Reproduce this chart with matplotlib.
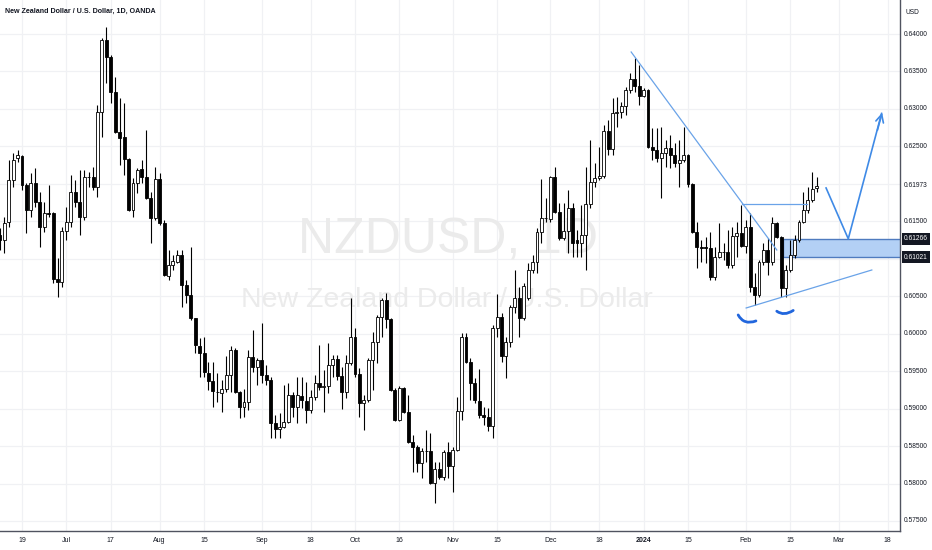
import matplotlib
matplotlib.use("Agg")
import matplotlib.pyplot as plt
import numpy as np
import pandas as pd
from matplotlib.patches import Rectangle, PathPatch
from matplotlib.path import Path

# ---------------- data (NZDUSD daily) ----------------
start_date = "2023-06-12"
opens = [0.61317, 0.61251, 0.61491, 0.62051, 0.62345,
         0.62372, 0.61985, 0.61651, 0.62011, 0.61758, 0.61424, 0.61611, 0.61611, 0.60730, 0.60690,
         0.61371, 0.61491, 0.61891, 0.61758, 0.61558, 0.62091, 0.62091, 0.61958, 0.62959, 0.63920,
         0.63693, 0.63226, 0.62692, 0.62625, 0.62332, 0.61651, 0.62011, 0.62198, 0.62091, 0.61811,
         0.61544, 0.62065, 0.61477, 0.60770, 0.60917, 0.60957, 0.61050, 0.60650, 0.60516, 0.60209,
         0.59836, 0.59742, 0.59475, 0.59368, 0.59222, 0.59208, 0.59262, 0.59448, 0.59782, 0.59222,
         0.59021, 0.59088, 0.59689, 0.59555, 0.59649, 0.59448, 0.59382, 0.58808, 0.58728, 0.58754,
         0.58821, 0.59182, 0.59021, 0.59168, 0.59101, 0.58981, 0.59155, 0.59342, 0.59288, 0.59302,
         0.59582, 0.59662, 0.59435, 0.59222, 0.59609, 0.59956, 0.59462, 0.59075, 0.59115, 0.59649,
         0.59889, 0.60223, 0.60450, 0.60196, 0.59248, 0.58848, 0.59275, 0.58955, 0.58554, 0.58487,
         0.58274, 0.58434, 0.58434, 0.58007, 0.58194, 0.58087, 0.58421, 0.58234, 0.58447, 0.58968,
         0.59956, 0.59622, 0.59342, 0.59101, 0.58915, 0.58888, 0.58768, 0.60076, 0.60223, 0.59702,
         0.59889, 0.60356, 0.60476, 0.60209, 0.60476, 0.60850, 0.60957, 0.61357, 0.61544, 0.61531,
         0.62091, 0.61624, 0.61277, 0.61371, 0.61678, 0.61251, 0.61210, 0.61317, 0.61731, 0.62025,
         0.62078, 0.62105, 0.62705, 0.62465, 0.62946, 0.62959, 0.63039, 0.63253, 0.63400, 0.63306,
         0.63173, 0.63253, 0.62492, 0.62452, 0.62345, 0.62412, 0.62479, 0.62385, 0.62278, 0.62318,
         0.62385, 0.61998, 0.61357, 0.61157, 0.61157, 0.61144, 0.60757, 0.61024, 0.61090, 0.61090,
         0.60917, 0.61304, 0.61344, 0.61170, 0.61424, 0.60623, 0.60516, 0.60957, 0.61117, 0.60957,
         0.61477, 0.61291, 0.60610, 0.60850, 0.61050, 0.61251, 0.61491, 0.61651, 0.61784, 0.61945]
highs = [0.61411, 0.61558, 0.62318, 0.62412, 0.62452,
         0.62385, 0.62011, 0.62145, 0.62212, 0.61891, 0.61758, 0.61985, 0.61624, 0.61010, 0.61424,
         0.61691, 0.62118, 0.62051, 0.62185, 0.62185, 0.62158, 0.62225, 0.63053, 0.63947, 0.64094,
         0.63720, 0.63426, 0.63146, 0.63079, 0.62345, 0.62078, 0.62212, 0.62318, 0.62719, 0.61891,
         0.62225, 0.62145, 0.61517, 0.61117, 0.61050, 0.61117, 0.61117, 0.60717, 0.61157, 0.60215,
         0.59942, 0.59956, 0.59622, 0.59622, 0.59475, 0.59382, 0.59702, 0.59836, 0.59809, 0.59230,
         0.59262, 0.59782, 0.60049, 0.59675, 0.60143, 0.59582, 0.59422, 0.58915, 0.58941, 0.59315,
         0.59342, 0.59222, 0.59422, 0.59422, 0.59355, 0.59248, 0.59448, 0.59849, 0.59515, 0.59876,
         0.59716, 0.59716, 0.59555, 0.59716, 0.60476, 0.60076, 0.59542, 0.59182, 0.59675, 0.60023,
         0.60249, 0.60476, 0.60543, 0.60205, 0.59275, 0.59302, 0.59288, 0.59182, 0.58648, 0.58514,
         0.58474, 0.58714, 0.58674, 0.58287, 0.58287, 0.58447, 0.58554, 0.58487, 0.59155, 0.60009,
         0.60009, 0.59675, 0.59408, 0.59529, 0.59021, 0.59008, 0.60116, 0.60530, 0.60276, 0.59956,
         0.60383, 0.60850, 0.60623, 0.60677, 0.60944, 0.61050, 0.61411, 0.62065, 0.61811, 0.62100,
         0.62225, 0.61744, 0.61744, 0.61918, 0.61744, 0.61384, 0.61718, 0.62225, 0.62585, 0.62278,
         0.62492, 0.62786, 0.62852, 0.63146, 0.63159, 0.63093, 0.63293, 0.63480, 0.63680, 0.63586,
         0.63279, 0.63266, 0.62746, 0.62746, 0.62759, 0.62585, 0.62652, 0.62545, 0.62585, 0.62759,
         0.62398, 0.62011, 0.61491, 0.61251, 0.61291, 0.61357, 0.61157, 0.61477, 0.61210, 0.61384,
         0.61424, 0.61491, 0.61718, 0.61517, 0.61611, 0.60810, 0.60984, 0.61210, 0.61277, 0.61558,
         0.61491, 0.61300, 0.60917, 0.61251, 0.61317, 0.61517, 0.61891, 0.61958, 0.62158, 0.62091]
lows = [0.61117, 0.61077, 0.61424, 0.61958, 0.62292,
        0.61918, 0.61344, 0.61558, 0.61691, 0.61157, 0.61357, 0.61558, 0.60677, 0.60490, 0.60623,
        0.61251, 0.61424, 0.61691, 0.61317, 0.61517, 0.61958, 0.61918, 0.61824, 0.62625, 0.63346,
        0.63079, 0.62685, 0.62252, 0.62118, 0.61640, 0.61558, 0.61878, 0.62011, 0.61800, 0.61210,
        0.61517, 0.61451, 0.60775, 0.60717, 0.60850, 0.60944, 0.60356, 0.60410, 0.60183, 0.59742,
        0.59422, 0.59422, 0.59248, 0.59021, 0.59088, 0.58955, 0.59222, 0.59222, 0.59208, 0.58875,
        0.58888, 0.58981, 0.59489, 0.59315, 0.59342, 0.59315, 0.58608, 0.58608, 0.58608, 0.58741,
        0.58808, 0.58888, 0.58808, 0.59008, 0.58808, 0.58941, 0.59115, 0.59248, 0.58955, 0.59208,
        0.59422, 0.59382, 0.58995, 0.59141, 0.59582, 0.59422, 0.58888, 0.58714, 0.59088, 0.59248,
        0.59609, 0.59956, 0.60076, 0.59240, 0.58840, 0.58840, 0.58941, 0.58541, 0.58154, 0.58154,
        0.58074, 0.58287, 0.58000, 0.57740, 0.58060, 0.58047, 0.58074, 0.57887, 0.58440, 0.58848,
        0.59609, 0.59115, 0.59075, 0.58875, 0.58781, 0.58701, 0.58608, 0.59956, 0.59622, 0.59408,
        0.59822, 0.60276, 0.59956, 0.60183, 0.60450, 0.60810, 0.60810, 0.61210, 0.61491, 0.61491,
        0.61611, 0.61251, 0.61251, 0.61077, 0.61024, 0.61024, 0.61024, 0.60850, 0.61678, 0.61958,
        0.62051, 0.62078, 0.62385, 0.62385, 0.62759, 0.62879, 0.62919, 0.63213, 0.63226, 0.63053,
        0.63159, 0.62485, 0.62318, 0.62292, 0.61811, 0.62225, 0.62212, 0.62225, 0.61958, 0.62292,
        0.61958, 0.61350, 0.60877, 0.60957, 0.60944, 0.60717, 0.60717, 0.61010, 0.60984, 0.60877,
        0.60877, 0.61024, 0.61157, 0.61077, 0.60556, 0.60383, 0.60490, 0.60917, 0.60783, 0.60917,
        0.61277, 0.60490, 0.60490, 0.60823, 0.61010, 0.61224, 0.61477, 0.61611, 0.61758, 0.61891]
closes = [0.61251, 0.61477, 0.62051, 0.62318, 0.62385,
          0.61985, 0.61651, 0.62011, 0.61758, 0.61424, 0.61611, 0.61598, 0.60730, 0.60690, 0.61371,
          0.61491, 0.61891, 0.61758, 0.61558, 0.62091, 0.62095, 0.61958, 0.62959, 0.63920, 0.63693,
          0.63226, 0.62692, 0.62612, 0.62332, 0.61651, 0.62011, 0.62185, 0.62091, 0.61811, 0.61544,
          0.62065, 0.61477, 0.60783, 0.60917, 0.60970, 0.61050, 0.60650, 0.60516, 0.60209, 0.59849,
          0.59742, 0.59489, 0.59368, 0.59235, 0.59215, 0.59262, 0.59448, 0.59782, 0.59222, 0.59021,
          0.59088, 0.59689, 0.59555, 0.59649, 0.59448, 0.59382, 0.58808, 0.58728, 0.58754, 0.58821,
          0.59182, 0.59021, 0.59182, 0.59115, 0.58981, 0.59155, 0.59342, 0.59288, 0.59302, 0.59582,
          0.59662, 0.59435, 0.59222, 0.59609, 0.59956, 0.59462, 0.59075, 0.59115, 0.59649, 0.59889,
          0.60223, 0.60450, 0.60196, 0.59248, 0.58848, 0.59275, 0.58955, 0.58554, 0.58487, 0.58274,
          0.58434, 0.58430, 0.58007, 0.58194, 0.58087, 0.58421, 0.58234, 0.58447, 0.58968, 0.59956,
          0.59622, 0.59342, 0.59115, 0.58915, 0.58888, 0.58768, 0.60076, 0.60223, 0.59702, 0.59889,
          0.60356, 0.60476, 0.60209, 0.60637, 0.60850, 0.60957, 0.61357, 0.61544, 0.61550, 0.62091,
          0.61624, 0.61277, 0.61371, 0.61678, 0.61210, 0.61210, 0.61317, 0.61731, 0.62025, 0.62078,
          0.62105, 0.62705, 0.62465, 0.62946, 0.62959, 0.63039, 0.63253, 0.63400, 0.63306, 0.63173,
          0.63253, 0.62492, 0.62452, 0.62345, 0.62412, 0.62479, 0.62385, 0.62278, 0.62318, 0.62385,
          0.61998, 0.61357, 0.61157, 0.61150, 0.61144, 0.60757, 0.61024, 0.61090, 0.61095, 0.60917,
          0.61304, 0.61344, 0.61170, 0.61424, 0.60623, 0.60516, 0.60957, 0.61117, 0.60957, 0.61477,
          0.61291, 0.60610, 0.60850, 0.61050, 0.61251, 0.61491, 0.61651, 0.61784, 0.61931, 0.61973]

tick_dates = ["2023-06-19", "2023-07-03", "2023-07-17", "2023-08-01", "2023-08-15",
              "2023-09-01", "2023-09-18", "2023-10-02", "2023-10-16", "2023-11-01",
              "2023-11-15", "2023-12-01", "2023-12-18", "2024-01-01", "2024-01-15",
              "2024-02-01", "2024-02-15", "2024-03-01", "2024-03-18"]
tick_labels = ["19", "Jul", "17", "Aug", "15", "Sep", "18", "Oct", "16", "Nov",
               "15", "Dec", "18", "2024", "15", "Feb", "15", "Mar", "18"]
price_ticks = [0.575, 0.580, 0.585, 0.590, 0.595, 0.600, 0.605, 0.615, 0.625, 0.630, 0.635, 0.640]
grid_prices = [0.575, 0.580, 0.585, 0.590, 0.595, 0.600, 0.605, 0.610, 0.615, 0.620, 0.625, 0.630, 0.635, 0.640]
last_price = 0.61973
zone_top, zone_bottom = 0.61266, 0.61021

# ---------------- figure ----------------
W, H = 932, 550
fig = plt.figure(figsize=(W / 100, H / 100), dpi=100)
fig.patch.set_facecolor("white")
ax = fig.add_axes([0, 19 / H, 900 / W, 531 / H])
ax.set_facecolor("white")

n = len(closes)
x = np.arange(n)
all_days = pd.bdate_range(start_date, "2024-03-29")
tick_pos = all_days.get_indexer(pd.to_datetime(tick_dates))

XMIN, XMAX = 0.045, 202.75
ax.set_xlim(XMIN, XMAX)
ax.set_ylim(0.57366, 0.64454)

for p in tick_pos:
    ax.axvline(p, color="#f0f1f4", lw=0.9, zorder=0)
for gp in grid_prices:
    ax.axhline(gp, color="#f0f1f4", lw=0.9, zorder=0)

# watermark
wm_family = ["Liberation Sans Narrow", "Liberation Sans"]
ax.text(0.498, 0.548, "NZDUSD, 1D", transform=ax.transAxes, ha="center", va="center",
        fontsize=36, color="#ebebeb", family=wm_family, zorder=0.5)
ax.text(0.497, 0.435, "New Zealand Dollar / U.S. Dollar", transform=ax.transAxes, ha="center",
        va="center", fontsize=20.5, color="#ebebeb", family=wm_family, zorder=0.5)

# candles
o = np.array(opens); h = np.array(highs); l = np.array(lows); c = np.array(closes)
ax.vlines(x, l, h, color="#000000", lw=0.8, zorder=2)
bw = 0.66
for xi, oi, ci in zip(x, o, c):
    bottom = min(oi, ci)
    height = max(abs(ci - oi), 0.00004)
    fc = "white" if ci >= oi else "black"
    ax.add_patch(Rectangle((xi - bw / 2, bottom), bw, height, facecolor=fc,
                           edgecolor="black", lw=0.6, zorder=3))

# drawings
line_c = "#6aa3e8"
ax.plot([142.2, 175.0], [0.6376, 0.61117], color=line_c, lw=0.9, zorder=4)
ax.plot([167.1, 181.7], [0.61727, 0.61727], color=line_c, lw=0.9, zorder=4)
ax.plot([168.1, 196.4], [0.60343, 0.60850], color=line_c, lw=0.9, zorder=4)

ax.add_patch(Rectangle((176.4, zone_bottom), XMAX - 176.4 + 1, zone_top - zone_bottom,
                       facecolor="#b3d0f5", edgecolor="#4f7bbf", lw=1.0, zorder=1.5))

proj_c = "#3f8ae6"
ax.plot([186.1, 191.1, 198.6], [0.61945, 0.61266, 0.62940], color=proj_c, lw=1.2, zorder=5)
ax.annotate("", xy=(198.9, 0.62986), xytext=(197.5, 0.62680),
            arrowprops=dict(arrowstyle="->", color=proj_c, lw=1.2, mutation_scale=14), zorder=5)

arc_c = "#2166dd"
for P0, C0, P2 in [((166.3, 0.6025), (167.6, 0.6011), (170.3, 0.6017)),
                   ((175.0, 0.6030), (176.6, 0.6023), (178.7, 0.6031))]:
    path = Path([P0, C0, P2], [Path.MOVETO, Path.CURVE3, Path.CURVE3])
    ax.add_patch(PathPatch(path, fill=False, edgecolor=arc_c, lw=2.0, capstyle="round", zorder=5))

# spines / ticks
for s in ["top", "left"]:
    ax.spines[s].set_visible(False)
for s in ["right", "bottom"]:
    ax.spines[s].set_color("#505360")
    ax.spines[s].set_linewidth(1.0)
ax.set_xticks([]); ax.set_yticks([])

lab_font = dict(family=["Liberation Sans", "DejaVu Sans"], fontsize=4.8, color="#131722")
ytr = ax.get_yaxis_transform()
for p in price_ticks:
    ax.text(1.0045, p, f"{p:.5f}", transform=ytr, ha="left", va="center", clip_on=False, **lab_font)
ax.text(1.0045, last_price, f"{last_price:.5f}", transform=ytr, ha="left", va="center", clip_on=False,
        bbox=dict(boxstyle="square,pad=0.35", fc="white", ec="none"), zorder=6, **lab_font)
for zp in (zone_top, zone_bottom):
    ax.text(1.0045, zp, f"{zp:.5f}", transform=ytr, ha="left", va="center", clip_on=False,
            family=["Liberation Sans", "DejaVu Sans"], fontsize=4.8, color="white",
            bbox=dict(boxstyle="square,pad=0.35", fc="#131722", ec="none"), zorder=6)

xtr = ax.get_xaxis_transform()
for p, lab in zip(tick_pos, tick_labels):
    ax.text(p, -0.017, lab, transform=xtr, ha="center", va="center", clip_on=False,
            family=["Liberation Sans", "DejaVu Sans"], fontsize=5.0, color="#131722",
            fontweight="semibold" if lab == "2024" else "normal")

fig.text(5 / W, 1 - 11 / H, "New Zealand Dollar / U.S. Dollar, 1D, OANDA", ha="left", va="center",
         family=["Liberation Sans", "DejaVu Sans"], fontsize=5.1, color="#131722", fontweight="bold")
fig.text(906 / W, 1 - 12 / H, "USD", ha="left", va="center",
         family=["Liberation Sans", "DejaVu Sans"], fontsize=4.8, color="#131722")

fig.savefig("out.png", dpi=100, facecolor="white")
